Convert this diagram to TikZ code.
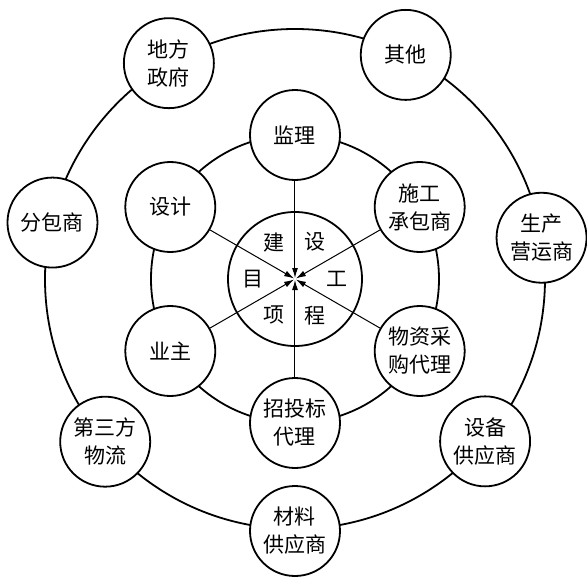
\documentclass[tikz,border=0pt]{standalone}
\usepackage{fontspec}
\newfontfamily\cjk{Noto Sans CJK SC}
\usetikzlibrary{arrows.meta}
\tikzset{
  party/.style={circle,draw,line width=1.8pt,fill=white,minimum size=90pt,
    inner sep=0pt,align=center,font=\cjk\fontsize{21}{28}\selectfont},
  ring/.style={line width=1.8pt},
  spoke/.style={->,line width=1pt,shorten >=1pt},
  hubchar/.style={inner sep=0pt,font=\cjk\fontsize{21}{22}\selectfont},
}
\begin{document}
\begin{tikzpicture}[x=1pt,y=1pt,>={Latex[length=10pt,width=6pt]}]
  \useasboundingbox (-295,-300) rectangle (292,279);
  \coordinate (core) at (0,0);
  % the three rings
  \draw[ring] (core) circle[radius=250];
  \draw[ring] (core) circle[radius=144];
  \draw[ring] (core) circle[radius=67];
  % inner ring of parties
  \node[party] (jianli) at (90:144) {监理};
  \node[party] (shigong) at (30:144) {施工\\承包商};
  \node[party] (wuzi) at (-30:144) {物资采\\购代理};
  \node[party] (zhaotou) at (-90:144) {招投标\\代理};
  \node[party] (yezhu) at (-150:144) {业主};
  \node[party] (sheji) at (150:144) {设计};
  % outer ring of parties
  \node[party] (zhengfu) at (120.3:250) {地方\\政府};
  \node[party] (qita) at (63.7:250) {其他};
  \node[party] (yingyun) at (9.5:250) {生产\\营运商};
  \node[party] (shebei) at (-40.5:250) {设备\\供应商};
  \node[party] (cailiao) at (-90:252) {材料\\供应商};
  \node[party] (wuliu) at (-139.4:250) {第三方\\物流};
  \node[party] (fenbao) at (166.9:249) {分包商};
  % project title round the hub
  \foreach \ang/\ch [count=\i] in {120/建,62/设,0/工,-62/程,-120/项,180/目}
    \node[hubchar] (hub\i) at (\ang:42) {\ch};
  \foreach \n in {jianli,shigong,wuzi,zhaotou,yezhu,sheji}
    \draw[spoke] (\n) -- (core);
\end{tikzpicture}
\end{document}
